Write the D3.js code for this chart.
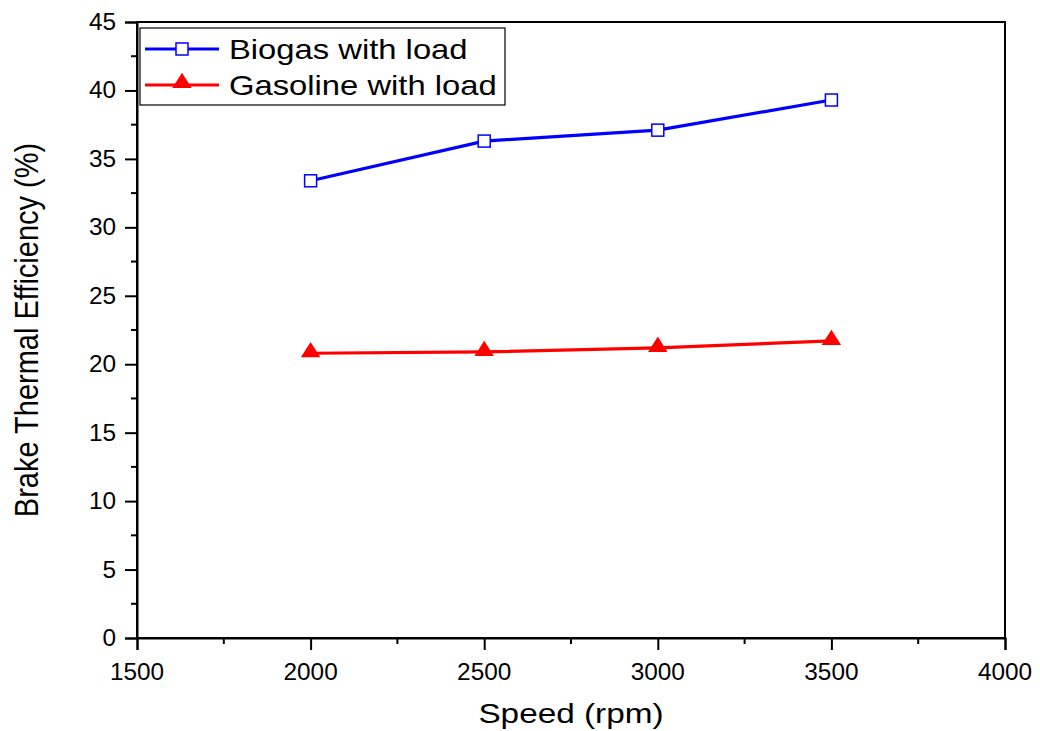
<!DOCTYPE html>
<html>
<head>
<meta charset="utf-8">
<script src="https://cdn.jsdelivr.net/npm/d3@7"></script>
<style>
  html, body { margin: 0; padding: 0; background: #fff; }
  svg { display: block; font-family: Arial, "Liberation Sans", sans-serif; }
</style>
</head>
<body>
<svg id="chart" width="1040" height="731"></svg>
<script>
// Engine speed (rpm)
const speeds = [2000, 2500, 3000, 3500];
// Brake thermal efficiency (%)
const biogas = [33.4, 36.3, 37.1, 39.3];
const gasoline = [20.8, 20.9, 21.2, 21.7];
const seriesNames = ["Biogas with load", "Gasoline with load"];
const xTicks = [1500, 2000, 2500, 3000, 3500, 4000];
const yTicks = [0, 5, 10, 15, 20, 25, 30, 35, 40, 45];

const margin = { left: 137, right: 35, top: 22, bottom: 93 };
const W = 1040, H = 731;
const FONT = "Arial, 'Liberation Sans', sans-serif";
const STRETCH = 1.17;   // horizontally widened lettering
const svg = d3.select("#chart");

const x = d3.scaleLinear().domain([1500, 4000]).range([margin.left, W - margin.right]);
const y = d3.scaleLinear().domain([0, 45]).range([H - margin.bottom, margin.top]);

const x0 = x.range()[0], x1 = x.range()[1];
const y0 = y.range()[0], y1 = y.range()[1];

// Text widened about its anchor point
function wideText(g, px, py, str, size, anchor, sx) {
  return g.append("text")
    .attr("transform", `translate(${px},${py}) scale(${sx},1)`)
    .attr("text-anchor", anchor)
    .attr("font-size", size)
    .attr("font-family", FONT)
    .attr("fill", "#000")
    .text(str);
}

// Frame
svg.append("rect")
  .attr("x", x0).attr("y", y1)
  .attr("width", x1 - x0).attr("height", y0 - y1)
  .attr("fill", "none").attr("stroke", "#000").attr("stroke-width", 2);

// Minor ticks
const xMinor = d3.range(1750, 4000, 500);
const yMinor = d3.range(2.5, 45, 5);
svg.append("g").selectAll("line").data(xMinor).join("line")
  .attr("x1", d => x(d)).attr("x2", d => x(d))
  .attr("y1", y0).attr("y2", y0 + 6)
  .attr("stroke", "#000").attr("stroke-width", 2);
svg.append("g").selectAll("line").data(yMinor).join("line")
  .attr("x1", x0 - 6).attr("x2", x0)
  .attr("y1", d => y(d)).attr("y2", d => y(d))
  .attr("stroke", "#000").attr("stroke-width", 2);

// Axes (tick lines from d3, labels drawn widened)
const xAxis = svg.append("g")
  .attr("transform", `translate(0,${y0})`)
  .call(d3.axisBottom(x).tickValues(xTicks).tickSize(12).tickFormat(d3.format("d")));
const yAxis = svg.append("g")
  .attr("transform", `translate(${x0},0)`)
  .call(d3.axisLeft(y).tickValues(yTicks).tickSize(12));
[xAxis, yAxis].forEach(g => {
  g.select(".domain").attr("stroke-width", 2);
  g.selectAll(".tick line").attr("stroke-width", 2);
  g.selectAll(".tick text").remove();
});
const xLab = svg.append("g");
xTicks.forEach(t => wideText(xLab, x(t), 680, d3.format("d")(t), 23, "middle", 1.06));
const yLab = svg.append("g");
yTicks.forEach(t => wideText(yLab, 116, y(t) + 8, String(t), 23, "end", 1.06));

// Axis titles
wideText(svg, (x0 + x1) / 2, 723, "Speed (rpm)", 28.5, "middle", STRETCH);
svg.append("text")
  .attr("transform", `translate(38,${(y0 + y1) / 2}) rotate(-90) scale(1,${STRETCH})`)
  .attr("text-anchor", "middle").attr("font-size", 29)
  .attr("font-family", FONT)
  .text("Brake Thermal Efficiency (%)");

const line = d3.line().x(d => x(d[0])).y(d => y(d[1]));
const biogasPts = speeds.map((s, i) => [s, biogas[i]]);
const gasPts = speeds.map((s, i) => [s, gasoline[i]]);

const tri = d3.symbol().type(d3.symbolTriangle).size(135);

// Gasoline series
svg.append("path").datum(gasPts).attr("d", line)
  .attr("fill", "none").attr("stroke", "#ff0000").attr("stroke-width", 3.2);
svg.append("g").selectAll("path").data(gasPts).join("path")
  .attr("d", tri)
  .attr("transform", d => `translate(${x(d[0])},${y(d[1]) - 1}) scale(1.1,1)`)
  .attr("fill", "#ff0000");

// Biogas series
svg.append("path").datum(biogasPts).attr("d", line)
  .attr("fill", "none").attr("stroke", "#0000ff").attr("stroke-width", 3.2);
svg.append("g").selectAll("rect").data(biogasPts).join("rect")
  .attr("x", d => x(d[0]) - 6).attr("y", d => y(d[1]) - 6)
  .attr("width", 12).attr("height", 12)
  .attr("fill", "#fff").attr("stroke", "#0000ff").attr("stroke-width", 1.5);

// Legend
const lg = svg.append("g");
lg.append("rect")
  .attr("x", 140).attr("y", 28).attr("width", 365).attr("height", 77)
  .attr("fill", "#fff").attr("stroke", "#000").attr("stroke-width", 1.2);
const rows = [
  { name: seriesNames[0], color: "#0000ff", cy: 49, marker: "square" },
  { name: seriesNames[1], color: "#ff0000", cy: 85, marker: "triangle" }
];
rows.forEach(r => {
  lg.append("line").attr("x1", 145).attr("x2", 219)
    .attr("y1", r.cy).attr("y2", r.cy)
    .attr("stroke", r.color).attr("stroke-width", 3.2);
  if (r.marker === "square") {
    lg.append("rect").attr("x", 176).attr("y", r.cy - 6)
      .attr("width", 12).attr("height", 12)
      .attr("fill", "#fff").attr("stroke", r.color).attr("stroke-width", 1.5);
  } else {
    lg.append("path").attr("d", tri)
      .attr("transform", `translate(182,${r.cy - 2}) scale(1.1,1)`)
      .attr("fill", r.color);
  }
  wideText(lg, 229, r.cy + 10, r.name, 28, "start", STRETCH);
});
</script>
</body>
</html>
